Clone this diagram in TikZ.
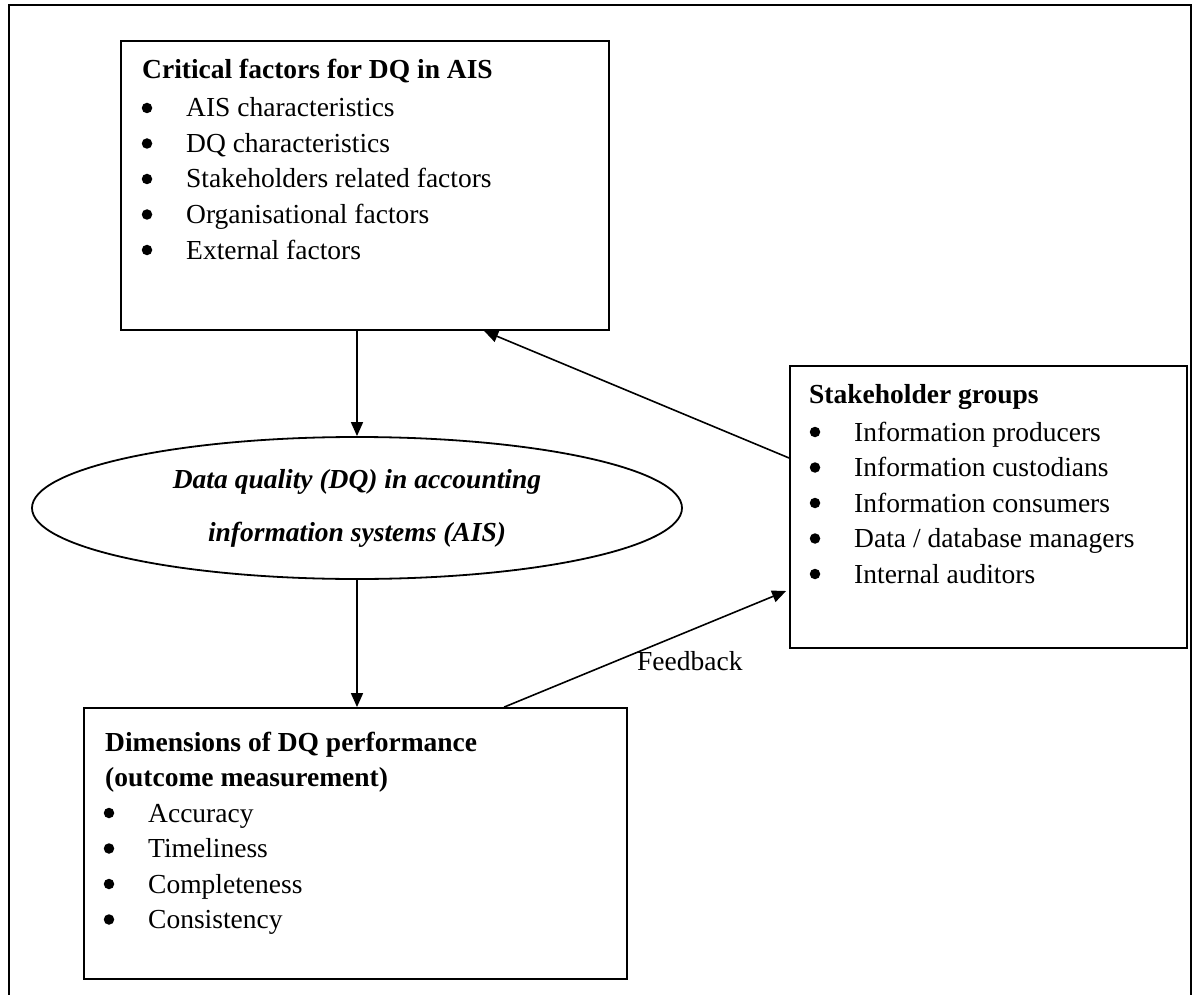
\documentclass[tikz,border=0pt]{standalone}
\usepackage{fontspec}
\setmainfont{Liberation Serif}
\usetikzlibrary{arrows.meta,shapes.geometric,calc}
\begin{document}
\begin{tikzpicture}[x=1pt,y=-1pt,
  box/.style={draw,line width=1.8pt,rectangle,inner sep=0pt},
  arr/.style={line width=1.6pt,-{Triangle[length=14pt,width=12pt]}},
  txt/.style={anchor=base west,inner sep=0pt,font=\fontsize{27.5}{32}\selectfont},
  ttl/.style={anchor=base west,inner sep=0pt,font=\fontsize{27.5}{32}\selectfont\bfseries},
  dot/.style={circle,fill,inner sep=0pt,minimum size=10.5pt}
]
\useasboundingbox (0,0) rectangle (1194,995);

% outer frame, open at the bottom
\draw[line width=2.6pt] (9,1000) -- (9,5) -- (1191,5) -- (1191,1000);

% boxes
\node[box,minimum width=488pt,minimum height=289pt] (crit) at (365,185.5) {};
\node[box,minimum width=397pt,minimum height=282pt] (stake) at (988.5,507) {};
\node[box,minimum width=543pt,minimum height=271pt] (dims) at (355.5,843.5) {};
\node[draw,line width=1.8pt,ellipse,minimum width=650pt,minimum height=142pt,inner sep=0pt] (dq) at (357,508) {};

% critical factors
\node[ttl] (critT) at (142,79) {Critical factors for DQ in AIS};
\foreach \t [count=\i] in {AIS characteristics,DQ characteristics,Stakeholders related factors,Organisational factors,External factors}{
  \node[dot] (critB\i) at (147,72.5+35.5*\i) {};
  \node[txt] (critL\i) at (186,81.5+35.5*\i) {\t};
}

% stakeholder groups
\node[ttl] (stakeT) at (809,403) {Stakeholder groups};
\foreach \t [count=\i] in {Information producers,Information custodians,Information consumers,Data / database managers,Internal auditors}{
  \node[dot] (stakeB\i) at (815,396.5+35.5*\i) {};
  \node[txt] (stakeL\i) at (854,405.5+35.5*\i) {\t};
}

% dimensions of DQ performance
\node[ttl] (dimsT1) at (105,751) {Dimensions of DQ performance};
\node[ttl] (dimsT2) at (105,786.5) {(outcome measurement)};
\foreach \t [count=\i] in {Accuracy,Timeliness,Completeness,Consistency}{
  \node[dot] (dimsB\i) at (109,777.5+35.5*\i) {};
  \node[txt] (dimsL\i) at (148,786.5+35.5*\i) {\t};
}

% ellipse text
\node[anchor=base,inner sep=0pt,font=\fontsize{27.5}{32}\selectfont\bfseries\itshape] (dqL1) at (357,488) {Data quality (DQ) in accounting};
\node[anchor=base,inner sep=0pt,font=\fontsize{27.5}{32}\selectfont\bfseries\itshape] (dqL2) at (357,541) {information systems (AIS)};

% connectors
\draw[arr] (crit.south -| dq.north) -- (dq.north);
\draw[arr] ([yshift=49pt]stake.west) -- ([xshift=364pt]crit.south west);
\draw[arr] (dq.south) -- (dq.south |- dims.north);
\draw[arr] ([xshift=421pt]dims.north west) -- ([xshift=-3pt,yshift=-84pt]stake.west);
\node[txt] (fb) at (637,670) {Feedback};
\end{tikzpicture}
\end{document}
